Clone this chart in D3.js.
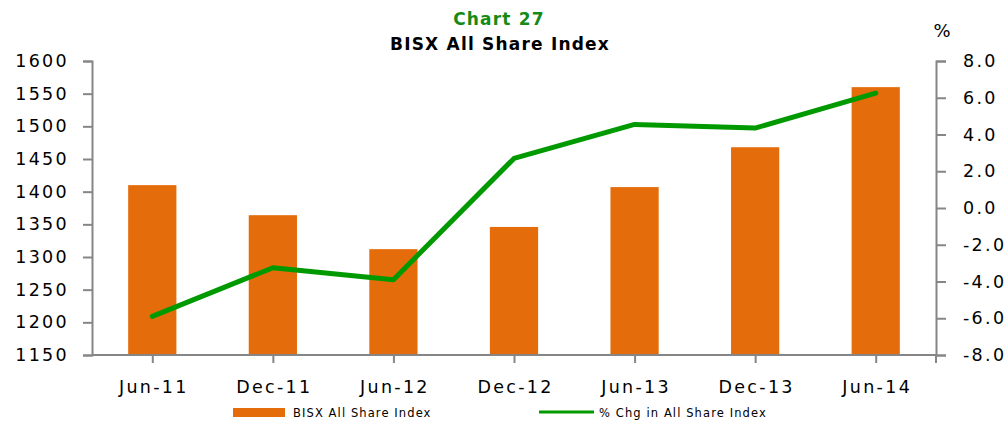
<!DOCTYPE html>
<html>
<head>
<meta charset="utf-8">
<script src="https://cdn.jsdelivr.net/npm/d3@7"></script>
<style>
body{margin:0;background:#fff;}
text{font-family:'DejaVu Sans',Verdana,sans-serif;}
.axis path,.axis line{stroke:#868686;stroke-width:2;}
.axis text{font-size:17.5px;fill:#000;letter-spacing:2.3px;}
</style>
</head>
<body>
<svg class="chart" width="1007" height="421"></svg>
<script>
var width = 1007,
	height = 421;

var plotLeft = 92, plotRight = 936, plotTop = 61, plotBottom = 355;

//Data
var periods = ['Jun-11','Dec-11','Jun-12','Dec-12','Jun-13','Dec-13','Jun-14'];
var indexValues = [1410, 1364, 1312, 1346, 1407, 1468, 1560];
var pctChange = [-5.9, -3.25, -3.9, 2.7, 4.55, 4.35, 6.25];
var leftTicks = [1150,1200,1250,1300,1350,1400,1450,1500,1550,1600];
var rightTicks = [-8,-6,-4,-2,0,2,4,6,8];

var orange = '#E46C0A',
	green = '#009A00';

var chart = d3.select('.chart');

//Scales
var xScale = d3.scaleBand()
			.domain(periods)
			.range([plotLeft,plotRight])
			.paddingInner(0.6)
			.paddingOuter(0.3);

var xPoint = d3.scalePoint()
			.domain(periods)
			.range([plotLeft,plotRight])
			.padding(0.5);

var yLeft = d3.scaleLinear()
			.domain([1150,1600])
			.range([plotBottom,plotTop]);

var yRight = d3.scaleLinear()
			.domain([-8,8])
			.range([plotBottom,plotTop]);

//Bars
chart.selectAll('.bar')
	.data(indexValues)
	.enter()
	.append('rect')
	.attr('class','bar')
	.attr('x',(d,i)=>xPoint(periods[i])-xScale.bandwidth()/2)
	.attr('width',xScale.bandwidth())
	.attr('y',d=>yLeft(d))
	.attr('height',d=>yLeft(1150)-yLeft(d))
	.attr('fill',orange);

//Axes
var leftAxis = chart.append('g')
	.attr('class','axis')
	.attr('transform','translate('+plotLeft+',0)')
	.call(d3.axisLeft(yLeft).tickValues(leftTicks).tickSize(9).tickPadding(14).tickSizeOuter(9).tickFormat(d3.format('d')));

var rightAxis = chart.append('g')
	.attr('class','axis')
	.attr('transform','translate('+plotRight+',0)')
	.call(d3.axisRight(yRight).tickValues(rightTicks).tickSize(10).tickPadding(17).tickSizeOuter(10).tickFormat(d3.format('.1f')));
rightAxis.selectAll('text').text(d=>d3.format('.1f')(d).replace('−','-'));

var xAxis = chart.append('g')
	.attr('class','axis')
	.attr('transform','translate(0,'+plotBottom+')')
	.call(d3.axisBottom(xPoint).tickSize(8).tickPadding(18).tickSizeOuter(0));
xAxis.select('.domain').attr('d','M'+plotLeft+',0H'+plotRight+'V8');
xAxis.selectAll('text').attr('dx',1);

//Line
var line = d3.line()
	.x((d,i)=>xPoint(periods[i]))
	.y(d=>yRight(d));

chart.append('path')
	.datum(pctChange)
	.attr('d',line)
	.attr('fill','none')
	.attr('stroke',green)
	.attr('stroke-width',5)
	.attr('stroke-linecap','round')
	.attr('stroke-linejoin','round');

//Titles
chart.append('text')
	.text('Chart 27')
	.attr('x',499)
	.attr('y',25)
	.attr('text-anchor','middle')
	.attr('font-weight','bold')
	.attr('font-size',17)
	.attr('letter-spacing',1.2)
	.attr('fill','#168A16');

chart.append('text')
	.text('BISX All Share Index')
	.attr('x',500)
	.attr('y',50)
	.attr('text-anchor','middle')
	.attr('font-weight','bold')
	.attr('font-size',17)
	.attr('letter-spacing',1.2)
	.attr('fill','#000');

chart.append('text')
	.text('%')
	.attr('x',942)
	.attr('y',37)
	.attr('text-anchor','middle')
	.attr('font-size',18)
	.attr('fill','#000');

//Legend
chart.append('rect')
	.attr('x',233)
	.attr('y',408)
	.attr('width',52)
	.attr('height',9)
	.attr('fill',orange);

chart.append('text')
	.text('BISX All Share Index')
	.attr('x',293)
	.attr('y',417)
	.attr('font-size',11.5)
	.attr('letter-spacing',1.1)
	.attr('fill','#000');

chart.append('line')
	.attr('x1',539)
	.attr('x2',594)
	.attr('y1',412)
	.attr('y2',412)
	.attr('stroke',green)
	.attr('stroke-width',3);

chart.append('text')
	.text('% Chg in All Share Index')
	.attr('x',599)
	.attr('y',417)
	.attr('font-size',11.5)
	.attr('letter-spacing',1.1)
	.attr('fill','#000');
</script>
</body>
</html>
